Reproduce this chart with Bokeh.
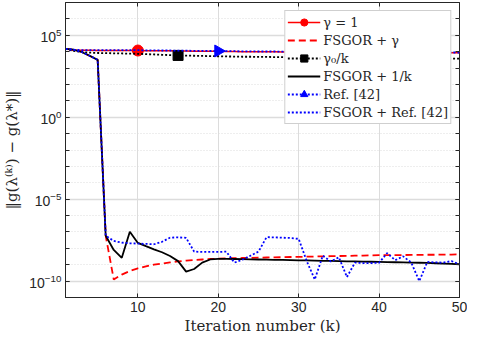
from bokeh.plotting import figure
from bokeh.models import (FixedTicker, LogAxis, LinearAxis, Legend, LegendItem,
                          CustomJSTickFormatter, Range1d)
from bokeh.embed import file_html
from bokeh.resources import INLINE

# iteration index
k = list(range(1, 51))

# log10 of ||g(lambda^(k)) - g(lambda*)||
gamma1_log = [4.17, 4.09, 4.08, 4.08, 4.07, 4.07, 4.07, 4.07, 4.07, 4.07,
              4.06, 4.06, 4.05, 4.05, 4.04, 4.04, 4.03, 4.03, 4.02, 4.02,
              4.01, 4.01, 4.00, 4.00, 3.99, 3.99, 3.99, 3.98, 3.98, 3.98,
              3.97, 3.97, 3.97, 3.96, 3.96, 3.96, 3.95, 3.95, 3.95, 3.95,
              3.94, 3.94, 3.94, 3.94, 3.94, 3.93, 3.93, 3.93, 3.93, 3.93]
ref42_log = [4.17, 4.11, 4.10, 4.10, 4.09, 4.09, 4.09, 4.09, 4.09, 4.09,
             4.08, 4.08, 4.07, 4.07, 4.06, 4.06, 4.05, 4.05, 4.04, 4.04,
             4.03, 4.03, 4.02, 4.02, 4.01, 4.01, 4.01, 4.00, 4.00, 4.00,
             3.99, 3.99, 3.99, 3.98, 3.98, 3.98, 3.97, 3.97, 3.97, 3.97,
             3.96, 3.96, 3.96, 3.96, 3.96, 3.95, 3.95, 3.95, 3.95, 3.95]
gamma0k_log = [4.17, 4.05, 3.98, 3.94, 3.92, 3.91, 3.90, 3.89, 3.88, 3.87,
               3.85, 3.83, 3.81, 3.79, 3.77, 3.76, 3.75, 3.74, 3.73, 3.72,
               3.71, 3.70, 3.69, 3.69, 3.68, 3.68, 3.67, 3.67, 3.66, 3.66,
               3.65, 3.65, 3.64, 3.64, 3.63, 3.63, 3.62, 3.62, 3.61, 3.61,
               3.60, 3.60, 3.60, 3.59, 3.59, 3.59, 3.58, 3.58, 3.58, 3.57]
fsgor_gamma_log = [4.17, 4.12, 3.98, 3.75, 3.50, -7.23, -9.90, -9.60, -9.38, -9.22,
                   -9.10, -9.00, -8.93, -8.86, -8.80, -8.75, -8.71, -8.68, -8.65, -8.63,
                   -8.61, -8.60, -8.59, -8.58, -8.57, -8.56, -8.55, -8.54, -8.53, -8.52,
                   -8.51, -8.50, -8.49, -8.48, -8.47, -8.46, -8.45, -8.44, -8.43, -8.42,
                   -8.42, -8.41, -8.41, -8.40, -8.40, -8.39, -8.39, -8.38, -8.38, -8.37]
fsgor_1k_log = [4.17, 4.12, 3.98, 3.75, 3.50, -7.23, -8.10, -8.58, -6.99, -7.67,
                -7.87, -8.06, -8.24, -8.47, -8.78, -9.42, -9.26, -8.87, -8.68, -8.64,
                -8.64, -8.65, -8.66, -8.67, -8.68, -8.69, -8.70, -8.71, -8.72, -8.73,
                -8.74, -8.75, -8.76, -8.77, -8.78, -8.79, -8.80, -8.81, -8.82, -8.83,
                -8.84, -8.85, -8.86, -8.87, -8.88, -8.89, -8.91, -8.93, -8.95, -8.97]
fsgor_ref_log = [4.17, 4.12, 3.98, 3.75, 3.50, -7.23, -7.55, -7.65, -7.69, -7.71,
                 -7.73, -7.75, -7.60, -7.35, -7.33, -7.36, -8.20, -8.22, -8.22, -8.22,
                 -8.20, -8.87, -8.70, -8.45, -8.20, -7.32, -7.33, -7.35, -7.37, -7.42,
                 -8.78, -9.90, -8.45, -8.80, -8.55, -9.75, -8.87, -8.90, -8.90, -8.88,
                 -8.29, -8.72, -8.49, -8.87, -10.00, -8.83, -8.86, -8.87, -8.78, -8.97]

# marker positions (iteration) for each marked series
marker_k_gamma1 = [10]
marker_k_gamma0k = [15]
marker_k_ref42 = [20]

x_ticks = [10, 20, 30, 40, 50]
y_major = [1e-10, 1e-5, 1e0, 1e5]
y_minor = [10.0 ** e for e in range(-11, 8)]

def vals(logs):
    return [10.0 ** v for v in logs]

def pick(logs, ks):
    return [10.0 ** logs[kk - 1] for kk in ks]

AX = "#262626"
GRID = "#dcdcdc"
SERIF = "DejaVu Serif"

p = figure(width=462, height=337, output_backend="svg", toolbar_location=None,
           y_axis_type="log", x_range=Range1d(1, 50), y_range=Range1d(1e-11, 1e7),
           min_border_left=60, min_border_right=8, min_border_top=2, min_border_bottom=40)
p.frame_width = 394
p.frame_height = 295
p.background_fill_color = "white"
p.outline_line_color = AX
p.outline_line_width = 1

# axes
p.xaxis.ticker = FixedTicker(ticks=x_ticks)
p.yaxis.ticker = FixedTicker(ticks=y_major, minor_ticks=y_minor)
for ax in (p.xaxis[0], p.yaxis[0]):
    ax.axis_line_color = AX
    ax.major_tick_line_color = AX
    ax.minor_tick_line_color = AX
    ax.major_tick_in = 4
    ax.major_tick_out = 0
    ax.minor_tick_in = 4
    ax.minor_tick_out = 0
    ax.major_label_text_color = AX
    ax.major_label_text_font = "Liberation Sans"
    ax.major_label_text_font_size = "14px"
    ax.axis_label_text_font = SERIF
    ax.axis_label_text_font_style = "normal"
    ax.axis_label_text_color = AX
    ax.axis_label_text_font_size = "15px"
p.xaxis.minor_tick_line_color = None
p.xaxis.major_label_standoff = 4
p.xaxis.axis_label = "Iteration number (k)"
p.xaxis.axis_label_standoff = 2
p.yaxis.major_label_standoff = 4
p.yaxis.axis_label = "‖g(λ⁽ᵏ⁾) − g(λ*)‖"
p.yaxis.axis_label_standoff = 5

blank = CustomJSTickFormatter(code="return ''")
right = LogAxis(ticker=FixedTicker(ticks=y_major, minor_ticks=y_minor), formatter=blank,
                axis_line_color=None, major_tick_in=4, major_tick_out=0,
                minor_tick_in=4, minor_tick_out=0, major_tick_line_color=AX,
                minor_tick_line_color=AX, major_label_standoff=0)
p.add_layout(right, "right")
top = LinearAxis(ticker=FixedTicker(ticks=x_ticks), formatter=blank,
                 axis_line_color=None, major_tick_in=4, major_tick_out=0,
                 minor_tick_line_color=None, major_tick_line_color=AX,
                 major_label_standoff=0)
p.add_layout(top, "above")

# grids
p.xgrid.grid_line_color = GRID
p.xgrid.grid_line_width = 1
p.ygrid.grid_line_color = GRID
p.ygrid.grid_line_width = 1.5
p.ygrid.minor_grid_line_color = GRID
p.ygrid.minor_grid_line_dash = "1 2"
p.ygrid.minor_grid_line_width = 1

RED = "#ff0000"
BLUE = "#0000ff"
BLK = "#000000"

r1 = p.line(k, vals(gamma1_log), line_color=RED, line_width=1.5)
m1 = p.scatter(marker_k_gamma1, pick(gamma1_log, marker_k_gamma1), marker="circle",
               size=11, fill_color=RED, line_color=RED)
r2 = p.line(k, vals(fsgor_gamma_log), line_color=RED, line_width=1.8, line_dash="7 4")
r3 = p.line(k, vals(gamma0k_log), line_color=BLK, line_width=1.8, line_dash="2 2")
m3 = p.scatter(marker_k_gamma0k, pick(gamma0k_log, marker_k_gamma0k), marker="square",
               size=10, fill_color=BLK, line_color=BLK)
r4 = p.line(k, vals(fsgor_1k_log), line_color=BLK, line_width=1.8)
r5 = p.line(k, vals(ref42_log), line_color=BLUE, line_width=1.8, line_dash="2 2")
m5 = p.scatter(marker_k_ref42, pick(ref42_log, marker_k_ref42), marker="triangle",
               angle=-1.5708, size=12, fill_color=BLUE, line_color=BLUE)
r6 = p.line(k, vals(fsgor_ref_log), line_color=BLUE, line_width=1.8, line_dash="2 2")

legend = Legend(items=[
    LegendItem(label="γ = 1", renderers=[r1, m1]),
    LegendItem(label="FSGOR + γ", renderers=[r2]),
    LegendItem(label="γ₀/k", renderers=[r3, m3]),
    LegendItem(label="FSGOR + 1/k", renderers=[r4]),
    LegendItem(label="Ref. [42]", renderers=[r5, m5]),
    LegendItem(label="FSGOR + Ref. [42]", renderers=[r6]),
], location="top_right")
legend.margin = 8
legend.padding = 2
legend.spacing = 0
legend.glyph_width = 33
legend.glyph_height = 18
legend.label_height = 18
legend.label_standoff = 3
legend.label_text_font = SERIF
legend.label_text_font_size = "13px"
legend.label_text_color = AX
legend.border_line_color = "#a0a0a0"
legend.border_line_width = 1
legend.background_fill_alpha = 1
p.add_layout(legend, "center")

open("out.html", "w").write(file_html(p, INLINE))
